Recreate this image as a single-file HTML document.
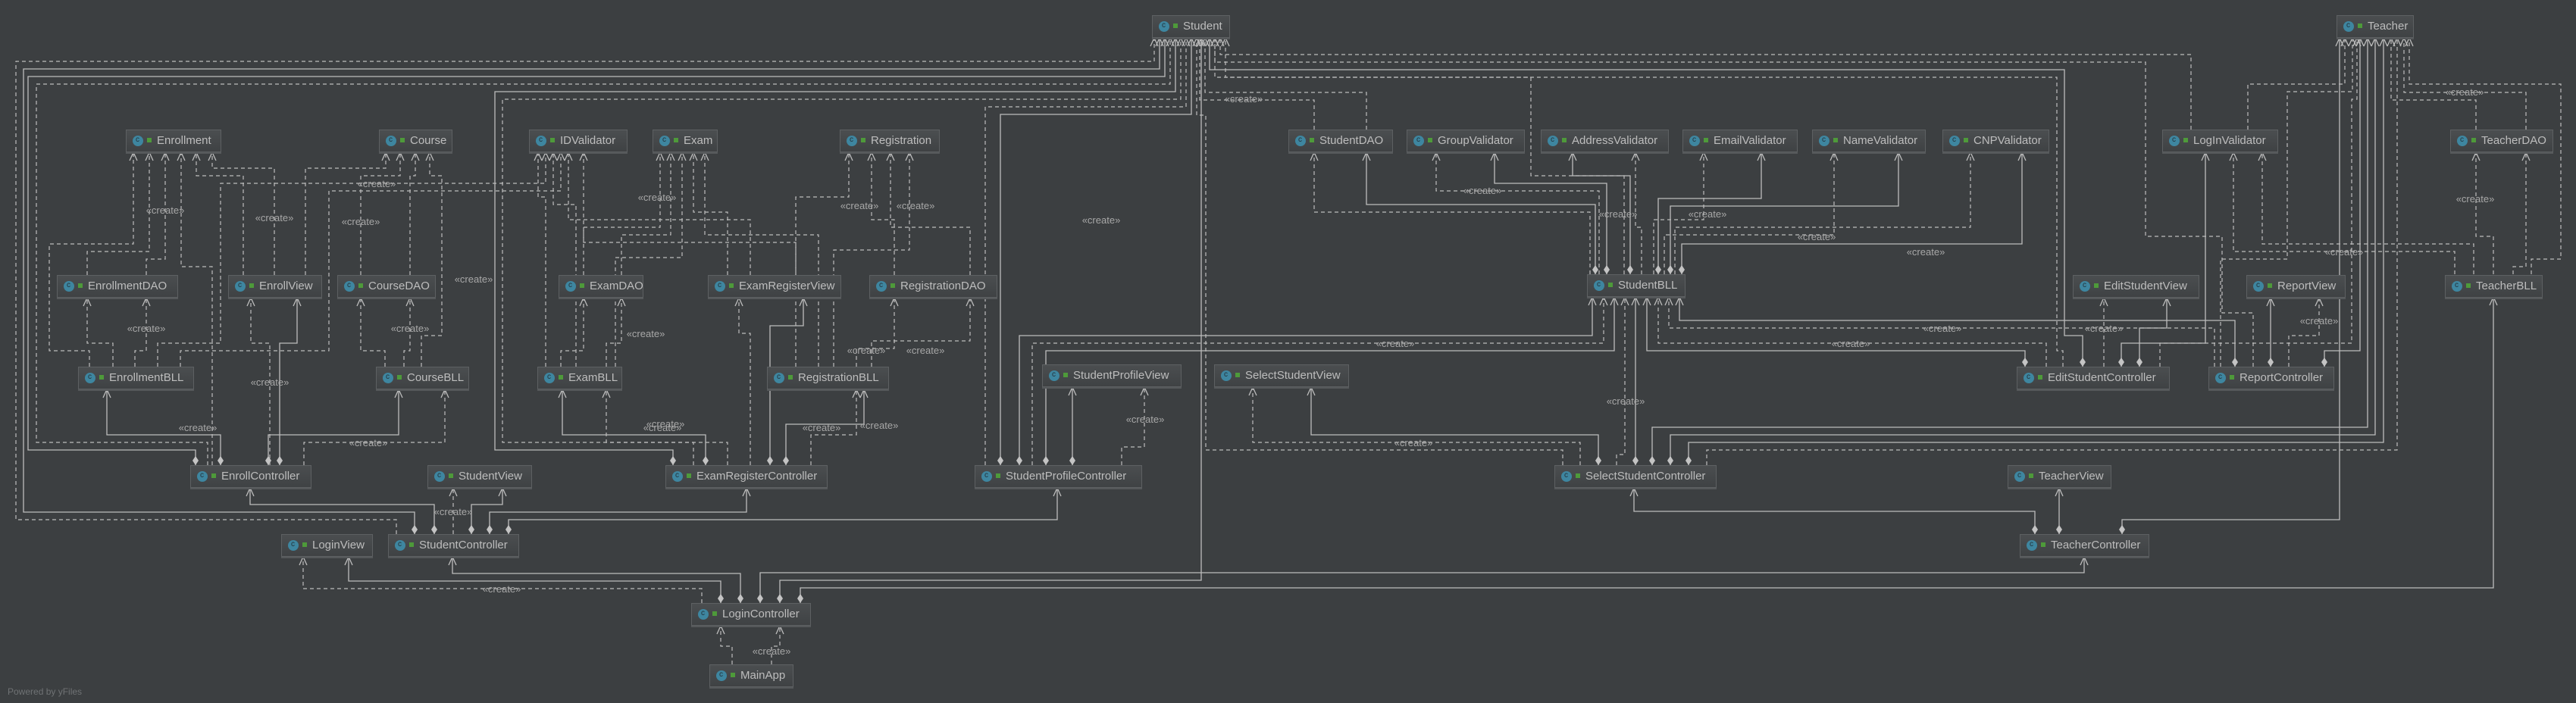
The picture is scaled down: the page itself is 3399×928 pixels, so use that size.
<!DOCTYPE html>
<html><head><meta charset="utf-8"><style>
html,body{margin:0;padding:0;background:#3c3f41;}
body{width:3399px;height:928px;position:relative;overflow:hidden;font-family:"Liberation Sans",sans-serif;}
.b{position:absolute;height:28px;line-height:28px;border:1px solid #5d6062;background:linear-gradient(#4b4e50,#3f4244);color:#bdbdbd;font-size:15px;white-space:nowrap;box-sizing:content-box;box-shadow:0 2px 0 #55585a;}
.b i{position:absolute;left:8px;top:7px;width:14px;height:14px;border-radius:50%;background:#3e86a0;}
.b i:after{content:"c";position:absolute;left:4px;top:-8px;font-size:10px;color:#23323a;font-style:normal;}
.b u{position:absolute;left:27px;top:10px;width:6px;height:6px;background:#4e9a3a;}
.b span{position:absolute;left:40px;top:0;}
svg{position:absolute;left:0;top:0;}
</style></head><body>
<svg width="3399" height="928" xmlns="http://www.w3.org/2000/svg">
<defs>
<marker id="a" markerUnits="userSpaceOnUse" viewBox="-12 -7 14 14" markerWidth="14" markerHeight="14" refX="0" refY="0" orient="auto"><path d="M-11,-5 L0,0 L-11,5" fill="none" stroke="#bdbdbd" stroke-width="1.3"/></marker>
<marker id="dm" markerUnits="userSpaceOnUse" viewBox="-1 -6 15 12" markerWidth="15" markerHeight="12" refX="0" refY="0" orient="auto"><path d="M0,0 L6,-4 L12,0 L6,4 Z" fill="#c4c4c4"/></marker>
</defs>
<g fill="none" stroke="#bdbdbd" stroke-width="1.3" marker-start="url(#dm)" marker-end="url(#a)">
<path d="M547 705 V676 H31 V91 H1530 V50"/>
<path d="M258 614 V594 H37 V101 H1537 V50"/>
<path d="M888 614 V594 H653 V121 H1551 V50"/>
<path d="M1320 614 V151 H1572 V50"/>
<path d="M291 614 V574 H141 V514"/>
<path d="M369 614 V453 H392 V393"/>
<path d="M354 614 V574 H526 V514"/>
<path d="M931 614 V574 H742 V514"/>
<path d="M1016 614 V430 H1060 V393"/>
<path d="M1037 614 V560 H1140 V514"/>
<path d="M573 705 V666 H330 V644"/>
<path d="M622 705 V666 H663 V644"/>
<path d="M646 705 V676 H985 V644"/>
<path d="M671 705 V686 H1395 V644"/>
<path d="M951 796 V767 H460 V735"/>
<path d="M977 796 V757 H597 V735"/>
<path d="M1003 796 V756 H2750 V735"/>
<path d="M1029 796 V766 H1585 V50"/>
<path d="M1056 796 V776 H3290 V392"/>
<path d="M2105 362 V270 H1803 V201"/>
<path d="M2120 362 V242 H1972 V201"/>
<path d="M2151 362 V232 H2075 V201"/>
<path d="M2188 362 V262 H2324 V201"/>
<path d="M2204 362 V272 H2505 V201"/>
<path d="M2219 362 V322 H2668 V201"/>
<path d="M1345 614 V443 H2101 V392"/>
<path d="M1380 614 V463 H2130 V392"/>
<path d="M2158 614 V392"/>
<path d="M2672 484 V463 H2173 V392"/>
<path d="M2949 484 V423 H2216 V392"/>
<path d="M2109 614 V574 H1730 V511"/>
<path d="M2180 614 V564 H3124 V50"/>
<path d="M2204 614 V574 H3134 V50"/>
<path d="M2228 614 V584 H3145 V50"/>
<path d="M2748 484 V443 H2724 V92 H1596 V50"/>
<path d="M2799 484 V453 H2910 V201"/>
<path d="M2823 484 V433 H2859 V393"/>
<path d="M2996 484 V393"/>
<path d="M3067 484 V463 H3114 V50"/>
<path d="M2685 705 V675 H2156 V644"/>
<path d="M2717 705 V644"/>
<path d="M2800 705 V686 H3087 V50"/>
<path d="M1415 614 V511"/>
</g>
<g fill="none" stroke="#bdbdbd" stroke-width="1.2" stroke-dasharray="5,4" marker-end="url(#a)">
<path d="M523 705 V686 H21 V81 H1523 V50"/>
<path d="M274 614 V584 H48 V111 H1544 V50"/>
<path d="M915 614 V584 H663 V131 H1558 V50"/>
<path d="M1300 614 V141 H1565 V50"/>
<path d="M118 484 V463 H65 V322 H176 V201"/>
<path d="M115 363 V332 H197 V201"/>
<path d="M193 363 V342 H218 V201"/>
<path d="M280 614 V352 H239 V201"/>
<path d="M321 363 V232 H259 V201"/>
<path d="M362 363 V222 H280 V201"/>
<path d="M149 484 V453 H115 V393"/>
<path d="M178 484 V463 H193 V393"/>
<path d="M208 484 V453 H291 V242 H720 V201"/>
<path d="M238 484 V463 H434 V252 H740 V201"/>
<path d="M403 363 V222 H509 V201"/>
<path d="M476 363 V232 H528 V201"/>
<path d="M541 363 V232 H548 V201"/>
<path d="M556 484 V443 H583 V232 H567 V201"/>
<path d="M508 484 V463 H476 V393"/>
<path d="M533 484 V463 H541 V393"/>
<path d="M356 614 V453 H331 V393"/>
<path d="M401 614 V584 H587 V514"/>
<path d="M770 363 V300 H871 V201"/>
<path d="M820 363 V310 H885 V201"/>
<path d="M740 484 V463 H770 V393"/>
<path d="M800 484 V453 H820 V393"/>
<path d="M812 484 V340 H900 V201"/>
<path d="M720 484 V260 H710 V201"/>
<path d="M760 484 V270 H730 V201"/>
<path d="M960 363 V280 H915 V201"/>
<path d="M1050 363 V260 H1120 V201"/>
<path d="M990 363 V290 H750 V201"/>
<path d="M1180 363 V290 H1150 V201"/>
<path d="M1280 363 V300 H1175 V201"/>
<path d="M1130 484 V460 H1180 V393"/>
<path d="M1150 484 V450 H1280 V393"/>
<path d="M1100 484 V330 H1200 V201"/>
<path d="M1050 484 V320 H770 V201"/>
<path d="M1080 484 V310 H930 V201"/>
<path d="M960 614 V584 H800 V514"/>
<path d="M990 614 V440 H975 V393"/>
<path d="M1070 614 V574 H1130 V514"/>
<path d="M598 705 V644"/>
<path d="M926 796 V777 H400 V735"/>
<path d="M966 877 V853 H951 V826"/>
<path d="M1018 877 V853 H1029 V826"/>
<path d="M2098 362 V280 H1734 V201"/>
<path d="M2110 362 V252 H1895 V201"/>
<path d="M2166 362 V300 H2158 V201"/>
<path d="M2182 362 V290 H2248 V201"/>
<path d="M2196 362 V310 H2420 V201"/>
<path d="M2210 362 V300 H2600 V201"/>
<path d="M1362 614 V453 H2116 V392"/>
<path d="M2133 614 V600 H2144 V392"/>
<path d="M2700 484 V453 H2188 V392"/>
<path d="M2922 484 V433 H2202 V392"/>
<path d="M2085 614 V584 H1653 V511"/>
<path d="M2252 614 V594 H3163 V50"/>
<path d="M2062 614 V594 H1591 V152 H1579 V50"/>
<path d="M2966 171 V111 H3094 V50"/>
<path d="M2930 484 V342 H3018 V121 H3104 V50"/>
<path d="M2850 484 V453 H3103 V131 H3110 V50"/>
<path d="M3267 171 V132 H3155 V50"/>
<path d="M3333 171 V122 H3172 V50"/>
<path d="M3340 362 V342 H3379 V111 H3179 V50"/>
<path d="M3290 362 V312 H3267 V201"/>
<path d="M3316 362 V352 H3333 V201"/>
<path d="M3239 362 V332 H2947 V201"/>
<path d="M3264 362 V322 H2985 V201"/>
<path d="M2891 171 V72 H1610 V50"/>
<path d="M2973 484 V413 H2932 V312 H2831 V82 H1603 V50"/>
<path d="M2722 484 V463 H2714 V102 H1617 V50"/>
<path d="M2776 484 V393"/>
<path d="M3020 484 V443 H3060 V393"/>
<path d="M1480 614 V590 H1510 V511"/>
<path d="M1734 171 V132 H1583 V50"/>
<path d="M1803 171 V122 H1590 V50"/>
<path d="M2143 362 V232 H2020 V102 H1603 V50"/>
</g>
<g font-family="Liberation Sans, sans-serif" font-size="13" fill="#a8a8a8" text-anchor="middle">
<text x="218" y="282">«create»</text><text x="362" y="292">«create»</text><text x="476" y="297">«create»</text>
<text x="497" y="247">«create»</text><text x="625" y="373">«create»</text><text x="193" y="438">«create»</text>
<text x="541" y="438">«create»</text><text x="356" y="509">«create»</text><text x="261" y="569">«create»</text>
<text x="486" y="589">«create»</text><text x="874" y="569">«create»</text><text x="598" y="680">«create»</text>
<text x="662" y="782">«create»</text><text x="1084" y="569">«create»</text><text x="867" y="265">«create»</text>
<text x="1134" y="276">«create»</text><text x="1208" y="276">«create»</text><text x="852" y="445">«create»</text>
<text x="767" y="376">«create»</text><text x="878" y="564">«create»</text><text x="1160" y="566">«create»</text>
<text x="1143" y="467">«create»</text><text x="1047" y="508">«create»</text><text x="1221" y="467">«create»</text>
<text x="1511" y="558">«create»</text><text x="1453" y="295">«create»</text><text x="1641" y="135">«create»</text>
<text x="1956" y="256">«create»</text><text x="2135" y="287">«create»</text><text x="2253" y="287">«create»</text>
<text x="2397" y="317">«create»</text><text x="2541" y="337">«create»</text><text x="1841" y="458">«create»</text>
<text x="2563" y="438">«create»</text><text x="2442" y="458">«create»</text><text x="2145" y="534">«create»</text>
<text x="1865" y="589">«create»</text><text x="3252" y="126">«create»</text><text x="3266" y="267">«create»</text>
<text x="3093" y="337">«create»</text><text x="2776" y="438">«create»</text><text x="3060" y="428">«create»</text>
<text x="1018" y="864">«create»</text>
</g>
<text x="10" y="917" font-family="Liberation Sans, sans-serif" font-size="12" fill="#6f7274">Powered by yFiles</text>
</svg>
<div class="b" style="left:1520px;top:20px;width:101px"><i></i><u></u><span>Student</span></div>
<div class="b" style="left:3083px;top:20px;width:100px"><i></i><u></u><span>Teacher</span></div>
<div class="b" style="left:166px;top:171px;width:124px"><i></i><u></u><span>Enrollment</span></div>
<div class="b" style="left:500px;top:171px;width:95px"><i></i><u></u><span>Course</span></div>
<div class="b" style="left:698px;top:171px;width:128px"><i></i><u></u><span>IDValidator</span></div>
<div class="b" style="left:861px;top:171px;width:84px"><i></i><u></u><span>Exam</span></div>
<div class="b" style="left:1108px;top:171px;width:130px"><i></i><u></u><span>Registration</span></div>
<div class="b" style="left:1700px;top:171px;width:136px"><i></i><u></u><span>StudentDAO</span></div>
<div class="b" style="left:1856px;top:171px;width:154px"><i></i><u></u><span>GroupValidator</span></div>
<div class="b" style="left:2033px;top:171px;width:167px"><i></i><u></u><span>AddressValidator</span></div>
<div class="b" style="left:2220px;top:171px;width:150px"><i></i><u></u><span>EmailValidator</span></div>
<div class="b" style="left:2391px;top:171px;width:148px"><i></i><u></u><span>NameValidator</span></div>
<div class="b" style="left:2563px;top:171px;width:139px"><i></i><u></u><span>CNPValidator</span></div>
<div class="b" style="left:2853px;top:171px;width:151px"><i></i><u></u><span>LogInValidator</span></div>
<div class="b" style="left:3233px;top:171px;width:134px"><i></i><u></u><span>TeacherDAO</span></div>
<div class="b" style="left:75px;top:363px;width:158px"><i></i><u></u><span>EnrollmentDAO</span></div>
<div class="b" style="left:301px;top:363px;width:122px"><i></i><u></u><span>EnrollView</span></div>
<div class="b" style="left:445px;top:363px;width:128px"><i></i><u></u><span>CourseDAO</span></div>
<div class="b" style="left:737px;top:363px;width:110px"><i></i><u></u><span>ExamDAO</span></div>
<div class="b" style="left:934px;top:363px;width:174px"><i></i><u></u><span>ExamRegisterView</span></div>
<div class="b" style="left:1147px;top:363px;width:167px"><i></i><u></u><span>RegistrationDAO</span></div>
<div class="b" style="left:2094px;top:362px;width:128px"><i></i><u></u><span>StudentBLL</span></div>
<div class="b" style="left:2735px;top:363px;width:165px"><i></i><u></u><span>EditStudentView</span></div>
<div class="b" style="left:2964px;top:363px;width:129px"><i></i><u></u><span>ReportView</span></div>
<div class="b" style="left:3226px;top:363px;width:127px"><i></i><u></u><span>TeacherBLL</span></div>
<div class="b" style="left:103px;top:484px;width:151px"><i></i><u></u><span>EnrollmentBLL</span></div>
<div class="b" style="left:496px;top:484px;width:121px"><i></i><u></u><span>CourseBLL</span></div>
<div class="b" style="left:709px;top:484px;width:110px"><i></i><u></u><span>ExamBLL</span></div>
<div class="b" style="left:1012px;top:484px;width:159px"><i></i><u></u><span>RegistrationBLL</span></div>
<div class="b" style="left:1375px;top:481px;width:182px"><i></i><u></u><span>StudentProfileView</span></div>
<div class="b" style="left:1602px;top:481px;width:176px"><i></i><u></u><span>SelectStudentView</span></div>
<div class="b" style="left:2661px;top:484px;width:200px"><i></i><u></u><span>EditStudentController</span></div>
<div class="b" style="left:2914px;top:484px;width:164px"><i></i><u></u><span>ReportController</span></div>
<div class="b" style="left:251px;top:614px;width:158px"><i></i><u></u><span>EnrollController</span></div>
<div class="b" style="left:564px;top:614px;width:136px"><i></i><u></u><span>StudentView</span></div>
<div class="b" style="left:878px;top:614px;width:212px"><i></i><u></u><span>ExamRegisterController</span></div>
<div class="b" style="left:1286px;top:614px;width:219px"><i></i><u></u><span>StudentProfileController</span></div>
<div class="b" style="left:2051px;top:614px;width:212px"><i></i><u></u><span>SelectStudentController</span></div>
<div class="b" style="left:2649px;top:614px;width:135px"><i></i><u></u><span>TeacherView</span></div>
<div class="b" style="left:371px;top:705px;width:119px"><i></i><u></u><span>LoginView</span></div>
<div class="b" style="left:512px;top:705px;width:171px"><i></i><u></u><span>StudentController</span></div>
<div class="b" style="left:2665px;top:705px;width:169px"><i></i><u></u><span>TeacherController</span></div>
<div class="b" style="left:912px;top:796px;width:156px"><i></i><u></u><span>LoginController</span></div>
<div class="b" style="left:936px;top:877px;width:109px"><i></i><u></u><span>MainApp</span></div>
</body></html>
